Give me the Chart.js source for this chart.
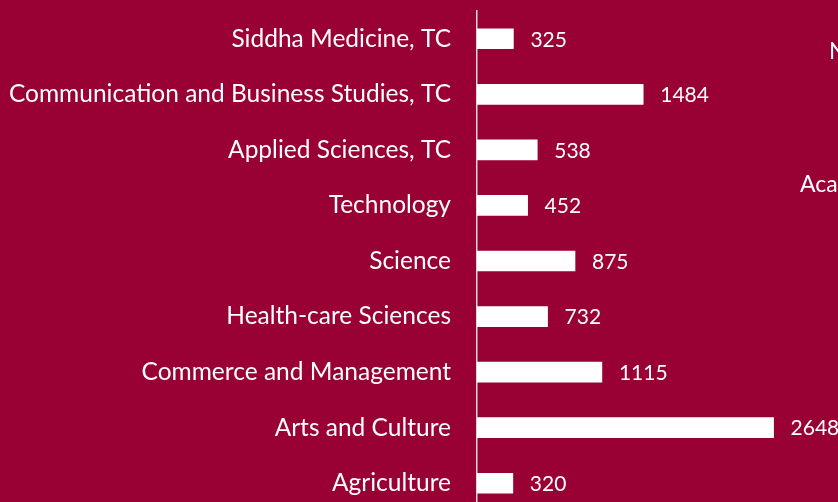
<!DOCTYPE html>
<html>
<head>
<meta charset="utf-8">
<script src="https://cdn.jsdelivr.net/npm/chart.js@4/dist/chart.umd.min.js"></script>
<style>
    html, body { margin: 0; padding: 0; background: #990033; overflow: hidden; }
    canvas { display: block; }
</style>
</head>
<body>
<canvas id="chart" width="838" height="512"></canvas>
<script>
const categories = [
    'Siddha Medicine, TC',
    'Communication and Business Studies, TC',
    'Applied Sciences, TC',
    'Technology',
    'Science',
    'Health-care Sciences',
    'Commerce and Management',
    'Arts and Culture',
    'Agriculture'
];
// bar lengths as drawn in the picture (the Health-care bar is shorter than its label says)
const barValues = [325, 1484, 538, 452, 875, 630, 1115, 2648, 320];
// numbers printed next to the bars
const barLabels = ['325', '1484', '538', '452', '875', '732', '1115', '2648', '320'];
const sideTexts = ['Number of students', 'Academic year'];

// value labels next to each bar, plus the clipped side texts on the right
const valueLabels = {
    id: 'valueLabels',
    afterDatasetsDraw(chart) {
        const ctx = chart.ctx;
        const meta = chart.getDatasetMeta(0);
        ctx.save();
        ctx.fillStyle = '#ffffff';
        ctx.font = "21px 'Lato', sans-serif";
        ctx.textAlign = 'left';
        ctx.textBaseline = 'middle';
        meta.data.forEach((bar, i) => {
            ctx.fillText(barLabels[i], bar.x + 17, bar.y + 1);
        });
        ctx.font = "23px 'Lato', sans-serif";
        ctx.fillText(sideTexts[0], 829, 52);
        ctx.fillText(sideTexts[1], 800, 185);
        ctx.restore();
    }
};

new Chart(document.getElementById('chart').getContext('2d'), {
    type: 'bar',
    data: {
        labels: categories,
        datasets: [{
            data: barValues,
            backgroundColor: '#ffffff',
            borderWidth: 0,
            barThickness: 20
        }]
    },
    options: {
        indexAxis: 'y',
        responsive: false,
        animation: false,
        layout: { padding: { top: 11, right: 25, left: 0, bottom: 1 } },
        plugins: {
            legend: { display: false },
            tooltip: { enabled: false }
        },
        scales: {
            x: {
                display: false,
                min: 0,
                max: 3000
            },
            y: {
                afterFit: function(scale) {
                    scale.width = 477;
                    scale.paddingTop = 0;
                    scale.paddingBottom = 0;
                },
                grid: { display: false, drawTicks: false },
                border: { display: true, color: '#d9d9d9', width: 1.5 },
                ticks: {
                    color: '#ffffff',
                    padding: 26,
                    font: { family: "'Lato', sans-serif", size: 24.5 }
                }
            }
        }
    },
    plugins: [valueLabels]
});
</script>
</body>
</html>
